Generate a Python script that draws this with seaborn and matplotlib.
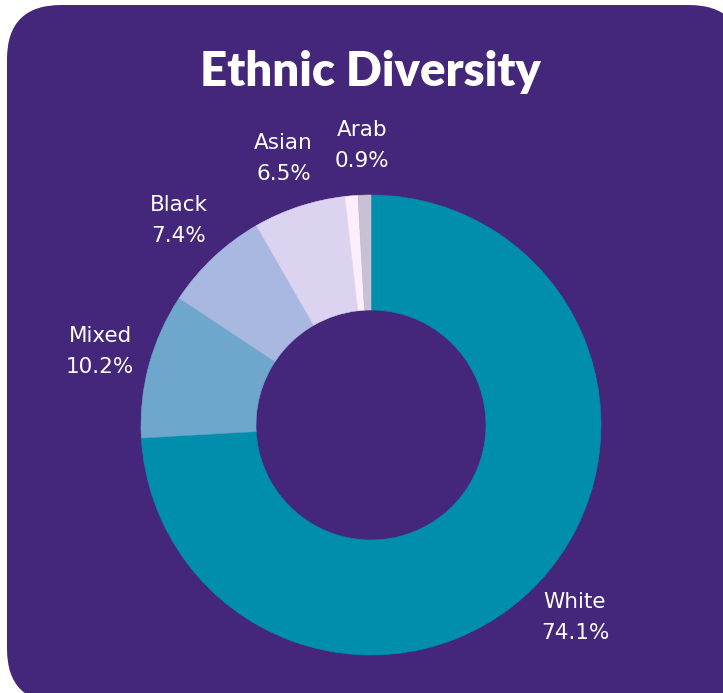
import matplotlib
matplotlib.use("Agg")
import matplotlib.pyplot as plt
import numpy as np
import seaborn as sns
from matplotlib.patches import FancyBboxPatch

# Data
categories = ["White", "Mixed", "Black", "Asian", "Arab", ""]
shares = [74.1, 10.2, 7.4, 6.5, 0.9, 0.9]
slice_colors = ["#008ead", "#6ea6cc", "#a9b8e0", "#dcd3f0", "#fdeefc", "#c9c0d4"]

BG = "#44277a"
W, H = 723, 693

sns.set_style("white")
plt.rcParams["font.family"] = ["DejaVu Sans"]

fig = plt.figure(figsize=(W / 100, H / 100), dpi=100)
fig.patch.set_facecolor("white")

# rounded card background (figure pixel coords -> fraction)
card = FancyBboxPatch(
    (7 / W, -10 / H), (W + 20 - 7) / W, (H + 10 - 5) / H,
    boxstyle="round,pad=0,rounding_size=0.075",
    transform=fig.transFigure, facecolor=BG, edgecolor="none",
    mutation_aspect=W / H, zorder=-10,
)
fig.patches.append(card)

fig.text(370 / W, 1 - 72 / H, "Ethnic Diversity", ha="center", va="center",
         color="white", fontsize=34, fontweight="heavy", family=["Lato", "DejaVu Sans"])

# donut: center (371, 425), outer radius 230 px
R = 230
ax = fig.add_axes([(371 - R) / W, 1 - (425 + R) / H, 2 * R / W, 2 * R / H])
ax.set_zorder(5)
ax.set_facecolor("none")
wedges, _ = ax.pie(
    shares, colors=slice_colors, startangle=90, counterclock=False,
    wedgeprops=dict(width=0.5, linewidth=0.4),
)
for w in wedges:
    w.set_edgecolor(w.get_facecolor())  # hide antialias seams
ax.set_xlim(-1, 1)
ax.set_ylim(-1, 1)
ax.set_aspect("equal")

# small nudge so the tiny Arab label sits over its slice like the original
nudge = {"Arab": 0.065}

for w, name, val in zip(wedges, categories, shares):
    if not name:
        continue
    ang = np.deg2rad((w.theta1 + w.theta2) / 2)
    x, y = 1.22 * np.cos(ang) + nudge.get(name, 0), 1.22 * np.sin(ang)
    ax.text(x, y, f"{name}\n{val}%", ha="center", va="center", color="white",
            fontsize=15.5, linespacing=1.7, clip_on=False)

fig.savefig("out.png", dpi=100, facecolor=fig.get_facecolor())
